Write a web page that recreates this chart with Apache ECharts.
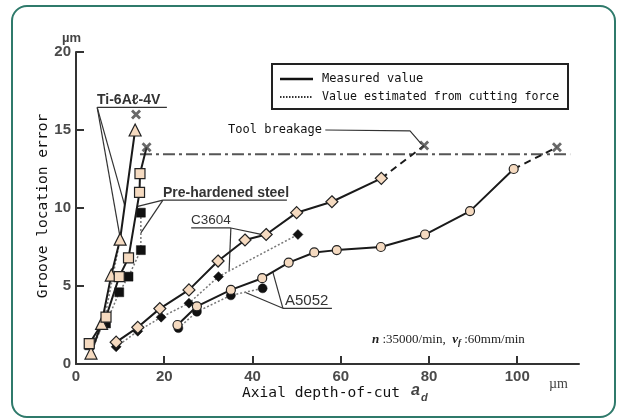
<!DOCTYPE html>
<html><head><meta charset="utf-8">
<script src="https://cdn.jsdelivr.net/npm/echarts@6/dist/echarts.min.js"></script>
<style>html,body{margin:0;padding:0;background:#fff}#c{width:619px;height:419px}</style>
</head><body><div id="c"></div>
<script>
// ---- data (x: axial depth-of-cut µm, y: groove location error µm) ----
const xTickValues = [0, 20, 40, 60, 80, 100];
const yTickValues = [0, 5, 10, 15, 20];
const tiMeasured = [[3.4,0.7],[5.8,2.6],[8.0,5.7],[10.0,8.0],[13.4,15.0]];
const tiEstimated = [[3.4,0.7],[6.4,2.8],[10.0,8.0]];
const steelMeasured = [[3.0,1.3],[6.8,3.0],[9.8,5.6],[11.9,6.8],[14.4,11.0],[14.5,12.2]];
const steelEstimated = [[3.0,1.2],[6.8,2.6],[9.8,4.6],[11.9,5.6],[14.7,7.3],[14.7,9.7]];
const c3604Measured = [[9.1,1.4],[14.0,2.35],[19.0,3.55],[25.6,4.75],[32.2,6.6],[38.3,7.95],[43.1,8.3],[50.0,9.7],[58.0,10.4],[69.2,11.9]];
const c3604Estimated = [[9.1,1.1],[14.0,2.1],[19.3,3.0],[25.6,3.9],[32.3,5.6],[50.3,8.3]];
const a5052Measured = [[23.0,2.5],[27.4,3.7],[35.1,4.75],[42.2,5.5],[48.2,6.5],[54.0,7.15],[59.1,7.3],[69.1,7.5],[79.1,8.3],[89.3,9.8],[99.2,12.5]];
const a5052Estimated = [[23.2,2.3],[27.4,3.35],[35.1,4.4],[42.3,4.85]];
const breakagePoints = [[13.6,16.0],[16.0,13.9],[78.9,14.0],[109.0,13.9]];
const toolBreakageLevel = 13.45;
const toolBreakageRange = [14.5, 112];

// annotation leader lines (data coords)
const tiLeaders = [[[4.8,16.45],[20.6,16.45]], [[4.8,16.45],[10.0,8.1]], [[4.8,16.45],[11.0,10.2]]];
const steelLeaders = [[[19.7,10.5],[47.8,10.5]], [[19.7,10.5],[14.0,10.1]], [[19.7,10.5],[14.7,8.4]]];
const c3604Leaders = [[[26.1,8.72],[35.1,8.72]], [[35.1,8.72],[34.7,6.0]], [[35.1,8.72],[41.7,8.33]]];
const a5052Leaders = [[[46.9,3.57],[58.0,3.57]], [[46.9,3.57],[44.6,5.9]], [[46.9,3.57],[38.3,4.6]]];
const breakLeader = [[56.5,15.0],[75.7,14.95],[78.3,14.1]];

const PEACH = '#f5dac0', INK = '#1a1a1a';
const XPATH = 'path://M0,2L2,0L5,3L8,0L10,2L7,5L10,8L8,10L5,7L2,10L0,8L3,5Z';

function measured(data, symbol, size) {
  return { type:'line', data, symbol, symbolSize:size, z:5,
    lineStyle:{color:INK, width:2},
    itemStyle:{color:PEACH, borderColor:'#222', borderWidth:1.2}, animation:false };
}
function estimated(data, symbol, size) {
  return { type:'line', data, symbol, symbolSize:size, z:4,
    lineStyle:{color:'#777', width:1.5, type:[2,2]},
    itemStyle:{color:'#111', borderColor:'#111', borderWidth:0.5}, animation:false };
}
function leader(pts) {
  return { type:'line', data:pts, symbol:'none', silent:true, z:3,
    lineStyle:{color:'#333', width:1.2}, animation:false };
}

const series = [
  estimated(tiEstimated, 'triangle', 9),
  estimated(steelEstimated, 'rect', 9),
  estimated(c3604Estimated, 'diamond', 10),
  estimated(a5052Estimated, 'circle', 9),
  measured(tiMeasured, 'triangle', 12),
  measured(steelMeasured.concat([breakagePoints[1]]).map((p,i,a)=> i===a.length-1 ? {value:p, symbol:'none'} : p), 'rect', 10),
  measured(c3604Measured, 'diamond', 12),
  measured(a5052Measured, 'circle', 9),
  { type:'line', data:[c3604Measured[c3604Measured.length-1], breakagePoints[2]], symbol:'none', z:4,
    lineStyle:{color:INK, width:2, type:[7,5]}, animation:false },
  { type:'line', data:[a5052Measured[a5052Measured.length-1], breakagePoints[3]], symbol:'none', z:4,
    lineStyle:{color:INK, width:2, type:[7,5]}, animation:false },
  { type:'line', data:[[toolBreakageRange[0], toolBreakageLevel],[toolBreakageRange[1], toolBreakageLevel]], symbol:'none', z:2,
    lineStyle:{color:'#555', width:2, type:[12,4,3,4]}, animation:false },
  { type:'scatter', data:breakagePoints, symbol:XPATH, symbolSize:10, z:6,
    itemStyle:{color:'#444'}, animation:false },
];
[tiLeaders, steelLeaders, c3604Leaders, a5052Leaders].forEach(g => g.forEach(l => series.push(leader(l))));
series.push(leader(breakLeader));

const tickFont = {fontFamily:'Liberation Sans, Arial', fontSize:15, fontWeight:'bold', color:'#4a4a4a'};
const option = {
  animation:false,
  grid:{left:76, right:40, top:52, bottom:55},
  xAxis:{type:'value', min:0, max:114,
    axisLine:{lineStyle:{color:'#333', width:2}},
    axisTick:{inside:true, length:8, customValues:xTickValues, lineStyle:{color:'#333', width:2}},
    axisLabel:{customValues:xTickValues, margin:5, ...tickFont},
    splitLine:{show:false}},
  yAxis:{type:'value', min:0, max:20, interval:5,
    axisLine:{show:true, lineStyle:{color:'#333', width:2}},
    axisTick:{show:true, inside:true, length:8, customValues:yTickValues, lineStyle:{color:'#333', width:2}},
    axisLabel:{customValues:yTickValues, margin:5, ...tickFont},
    splitLine:{show:false}},
  series,
  graphic:[
    {type:'rect', shape:{x:12, y:6, width:603, height:411, r:15}, style:{fill:'none', stroke:'#2f7a6b', lineWidth:2}, z:0},
    {type:'rect', shape:{x:272, y:64, width:296, height:45}, style:{fill:'#fff', stroke:'#222', lineWidth:2}, z:10},
    {type:'line', shape:{x1:280, y1:79, x2:313, y2:79}, style:{stroke:'#111', lineWidth:2.5}, z:11},
    {type:'line', shape:{x1:280, y1:97, x2:313, y2:97}, style:{stroke:'#333', lineWidth:2, lineDash:[1.5,1.5]}, z:11},
    {type:'text', x:322, y:79, style:{text:'Measured value', font:'12px "DejaVu Sans Mono"', fill:'#111', verticalAlign:'middle'}, z:11},
    {type:'text', x:322, y:97, style:{text:'Value estimated from cutting force', font:'11.6px "DejaVu Sans Mono"', fill:'#111', verticalAlign:'middle'}, z:11},
    {type:'text', x:322, y:130, style:{text:'Tool breakage', font:'12px "DejaVu Sans Mono"', fill:'#111', align:'right', verticalAlign:'middle'}, z:11},
    {type:'text', x:97, y:100, style:{text:'Ti-6Aℓ-4V', font:'bold 14px "Liberation Sans"', fill:'#333', verticalAlign:'middle'}, z:11},
    {type:'text', x:163, y:193, style:{text:'Pre-hardened steel', font:'bold 14px "Liberation Sans"', fill:'#333', verticalAlign:'middle'}, z:11},
    {type:'text', x:191, y:220, style:{text:'C3604', font:'13.5px "Liberation Sans"', fill:'#333', verticalAlign:'middle'}, z:11},
    {type:'text', x:285, y:301, style:{text:'A5052', font:'15px "Liberation Sans"', fill:'#333', verticalAlign:'middle'}, z:11},
    {type:'text', x:62, y:38, style:{text:'µm', font:'bold 13px "Liberation Sans"', fill:'#444', verticalAlign:'middle'}, z:11},
    {type:'text', x:549, y:384, style:{text:'µm', font:'14px "Liberation Serif"', fill:'#444', verticalAlign:'middle'}, z:11},
    {type:'text', x:372, y:340, style:{
      text:'{b|n} :35000/min,  {b|v}{s|f} :60mm/min',
      font:'13px "Liberation Serif"', fill:'#222', verticalAlign:'middle',
      rich:{b:{fontFamily:'Liberation Serif', fontStyle:'italic', fontWeight:'bold', fontSize:13, fill:'#222'},
            s:{fontFamily:'Liberation Serif', fontStyle:'italic', fontWeight:'bold', fontSize:9, fill:'#222', verticalAlign:'bottom', padding:[6,0,0,0]}}}, z:11},
    {type:'text', x:242, y:393, style:{text:'Axial depth-of-cut', font:'14.6px "DejaVu Sans Mono"', fill:'#111', verticalAlign:'middle'}, z:11},
    {type:'text', x:411, y:391, style:{text:'a', font:'italic bold 16px "Liberation Sans"', fill:'#444', verticalAlign:'middle'}, z:11},
    {type:'text', x:421, y:398, style:{text:'d', font:'italic bold 11px "Liberation Sans"', fill:'#444', verticalAlign:'middle'}, z:11},
    {type:'text', x:43, y:206, rotation:Math.PI/2, style:{text:'Groove location error', font:'14.6px "DejaVu Sans Mono"', fill:'#111', align:'center', verticalAlign:'middle'}, z:11},
  ]
};
const chart = echarts.init(document.getElementById('c'), null, {renderer:'canvas'});
chart.setOption(option);
</script></body></html>
